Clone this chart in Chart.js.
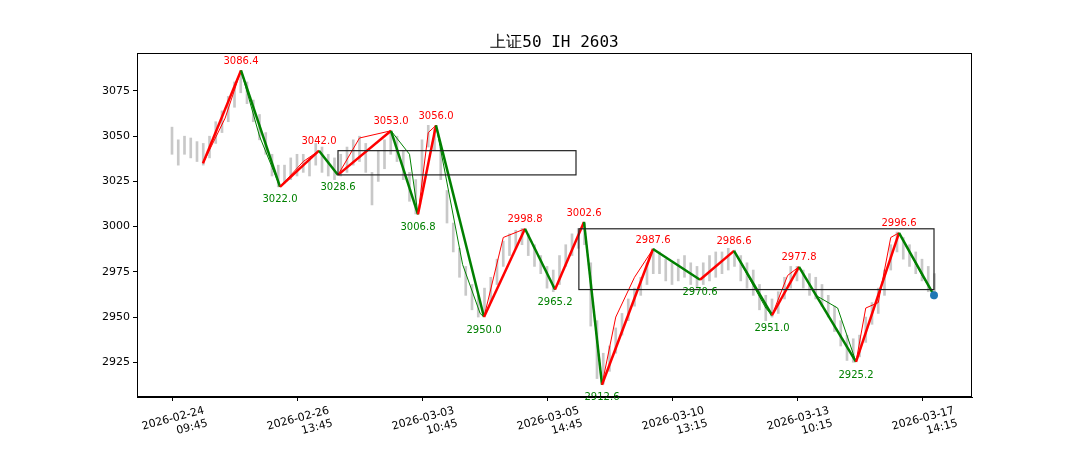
<!DOCTYPE html>
<html><head><meta charset="utf-8">
<script src="https://cdn.jsdelivr.net/npm/chart.js@4"></script>
<style>html,body{margin:0;background:#fff}#w{width:1080px;height:450px}</style>
</head><body><div id="w"><canvas id="c"></canvas></div>
<script>
const title = "上证50 IH 2603";
const tickLabels = [["2026-02-24","09:45"],["2026-02-26","13:45"],["2026-03-03","10:45"],["2026-03-05","14:45"],["2026-03-10","13:15"],["2026-03-13","10:15"],["2026-03-17","14:15"]];
const barLow = [3040,3034,3040,3038,3036,3034,3038,3046,3052,3058,3066,3074,3068,3058,3048,3040,3028,3022,3024,3026,3028,3030,3028,3034,3030,3028,3026,3028,3030,3034,3036,3030,3012,3025,3032,3040,3036,3026,3014,3007,3020,3044,3042,3026,3002,2986,2972,2962,2954,2950,2952,2958,2968,2978,2984,2988,2990,2984,2978,2974,2966,2964,2968,2978,2984,2988,2990,2945,2916,2913,2920,2930,2940,2948,2956,2962,2968,2974,2974,2970,2968,2970,2972,2968,2966,2968,2970,2972,2974,2976,2978,2970,2966,2962,2954,2948,2950,2952,2960,2966,2970,2966,2962,2960,2956,2950,2942,2934,2926,2925,2928,2936,2946,2952,2962,2976,2986,2982,2978,2974,2970,2964,2960];
const barHigh = [3055,3048,3050,3049,3047,3046,3050,3058,3064,3072,3080,3086,3080,3070,3062,3052,3040,3034,3034,3038,3040,3040,3038,3046,3044,3040,3038,3040,3044,3048,3050,3046,3030,3042,3048,3053,3050,3042,3030,3026,3048,3056,3054,3044,3020,3002,2988,2978,2968,2962,2966,2972,2982,2992,2996,2998,2999,2996,2990,2984,2978,2976,2984,2990,2996,2999,3002,2980,2948,2930,2934,2944,2952,2960,2966,2972,2980,2988,2986,2982,2980,2982,2984,2980,2978,2980,2984,2986,2986,2988,2987,2984,2980,2976,2968,2962,2960,2964,2972,2978,2978,2976,2974,2972,2968,2962,2956,2948,2940,2938,2940,2950,2958,2966,2976,2990,2997,2994,2990,2986,2982,2978,2974];
const pivotX = [4.96,11.04,17.28,23.52,26.56,35.04,39.36,42.24,49.92,56.48,61.28,65.92,68.8,76.96,84.48,89.92,96,100.32,109.44,116.32,121.92];
const pivotY = [3035,3086.4,3022.0,3042.0,3028.6,3053.0,3006.8,3056.0,2950.0,2998.8,2965.2,3002.6,2912.6,2987.6,2970.6,2986.6,2951.0,2977.8,2925.2,2996.6,2962];
const pivotLabel = [false,true,true,true,true,true,true,true,true,true,true,true,true,true,true,true,true,true,true,true,false];
const thinX = [4.96,8.5,11.04,14,17.28,21,23.52,26.56,30,35.04,38,39.36,41,42.24,46.5,49.3,49.92,53,56.48,61.28,65.92,68.8,71,74,76.96,84.48,89.92,95,96,98.5,100.32,103,106.5,109.44,111,113,115,116.32,120,121.92];
const thinY = [3035,3060,3086.4,3050,3022.0,3036,3042.0,3028.6,3049,3053.0,3040,3006.8,3052,3056.0,2979,2952,2950.0,2994,2998.8,2965.2,3002.6,2912.6,2950,2972,2987.6,2970.6,2986.6,2955,2951.0,2973,2977.8,2962,2955,2925.2,2955,2958,2994,2996.6,2973,2962];
const boxes = [[26.56,64.64,3028.6,3042.0],[65.1,121.92,2965.2,2998.8]];
const bars = barLow.map((l,i)=>({x:i,y:[l,barHigh[i]]}));
const pivots = pivotX.map((x,i)=>({x,y:pivotY[i]}));
const thin = thinX.map((x,i)=>({x,y:thinY[i]}));
const segColor = c => c.p1.parsed.y > c.p0.parsed.y ? '#ff0000' : '#008000';
const deco = {id:'deco',
  afterDatasetsDraw(ch){
    const {ctx,chartArea:a,scales:{x,y}}=ch;
    ctx.save();
    ctx.strokeStyle='#222';ctx.lineWidth=1.2;
    boxes.forEach(b=>{ctx.strokeRect(x.getPixelForValue(b[0]),y.getPixelForValue(b[3]),x.getPixelForValue(b[1])-x.getPixelForValue(b[0]),y.getPixelForValue(b[2])-y.getPixelForValue(b[3]));});
    ctx.font='10px "DejaVu Sans"';ctx.textAlign='center';
    pivots.forEach((p,i)=>{ if(!pivotLabel[i])return;
      const up = i>0 && p.y>pivots[i-1].y;
      ctx.fillStyle= up?'#ff0000':'#008000';
      ctx.textBaseline= up?'bottom':'top';
      ctx.fillText(p.y.toFixed(1),x.getPixelForValue(p.x),y.getPixelForValue(p.y)+(up?-4:8));});
    const last=pivots[pivots.length-1];
    ctx.fillStyle='#1f77b4';ctx.beginPath();ctx.arc(x.getPixelForValue(last.x),y.getPixelForValue(last.y),4,0,7);ctx.fill();
    ctx.strokeStyle='#000';ctx.lineWidth=1;ctx.strokeRect(a.left+.5,a.top+.5,a.width-1,a.height-1);
    ctx.fillStyle='#000';ctx.font='16px "DejaVu Sans Mono"';ctx.textBaseline='alphabetic';
    ctx.fillText(title,(a.left+a.right)/2,47);
    ctx.restore();}};
new Chart(document.getElementById('c'),{
  data:{datasets:[
    {type:'bar',data:bars,backgroundColor:'#c8c8c8',barThickness:2,order:3},
    {type:'line',data:thin,borderWidth:1,pointRadius:0,segment:{borderColor:segColor},order:2},
    {type:'line',data:pivots,borderWidth:2.5,pointRadius:0,segment:{borderColor:segColor},order:1}
  ]},
  options:{responsive:true,maintainAspectRatio:false,animation:false,devicePixelRatio:1,
    layout:{padding:{top:53,right:108,left:0,bottom:0}},
    plugins:{legend:{display:false},tooltip:{enabled:false}},
    scales:{
      x:{type:'linear',min:-5.6,max:128,offset:false,
        afterFit:s=>{s.height=53;},
        grid:{drawOnChartArea:false,tickLength:4,color:'#000',offset:false},border:{color:'#000'},
        afterBuildTicks:s=>{s.ticks=tickLabels.map((t,i)=>({value:i*20}));},
        ticks:{color:'#000',font:{family:'DejaVu Sans',size:11},minRotation:15,maxRotation:15,labelOffset:32,
          callback:(v)=>tickLabels[Math.round(v/20)]}},
      y:{type:'linear',min:2905.8,max:3096,
        afterFit:s=>{s.width=137;},
        grid:{drawOnChartArea:false,tickLength:4,color:'#000'},border:{color:'#000'},
        afterBuildTicks:s=>{s.ticks=[2925,2950,2975,3000,3025,3050,3075].map(v=>({value:v}));},
        ticks:{color:'#000',font:{family:'DejaVu Sans',size:11},callback:v=>String(v)}}
    }},
  plugins:[deco]});
</script></body></html>
